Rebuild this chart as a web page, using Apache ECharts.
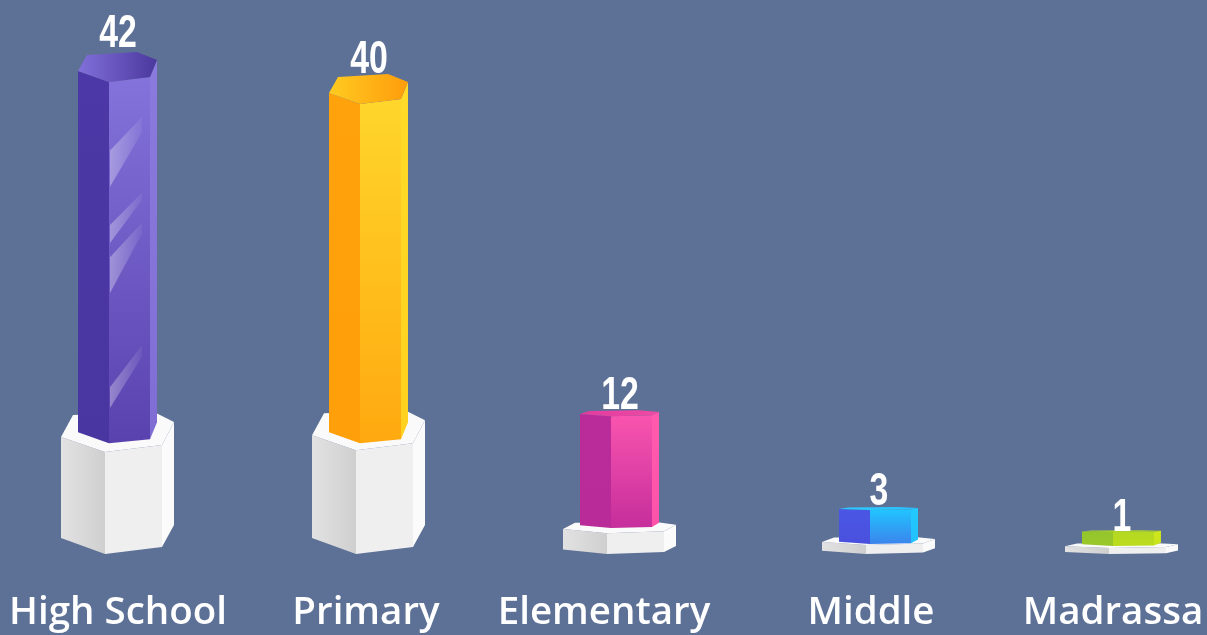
<!DOCTYPE html>
<html><head><meta charset="utf-8">
<style>html,body{margin:0;padding:0;background:#5d7096}#c{width:1207px;height:635px}</style>
<script src="https://cdn.jsdelivr.net/npm/echarts@6/dist/echarts.min.js"></script>
</head><body><div id="c"></div>
<script>
const categories = ['High School','Primary','Elementary','Middle','Madrassa'];
const values = [42,40,12,3,1];
const columnBase = [9.1,9.1,1.37,-0.1,-0.27];
const plinthTop = [8.3,8.45,0.9,-0.18,-0.45];
const plinthBottom = [-1,-1,-1,-1,-1];

const palette = [
 {left:['#4c38a6','#4a36a0'],right:['#8373da','#5a42ae'],strip:['#8c7bde','#7f6dd4'],top:['#8270da','#4b389e']},
 {left:['#ffa20c','#ff9f0a'],right:['#ffd62b','#ffa90f'],strip:['#ffdb28','#ffd01f'],top:['#ffcb20','#ff9c0c']},
 {left:['#b92c9a','#b82b98'],right:['#f954ae','#c62e9c'],strip:['#ff5aad','#ff53aa'],top:['#e03c9f','#f04aa6']},
 {left:['#4a57e4','#4a50de'],right:['#21c4ff','#3b84ec'],strip:['#22caff','#22c0ff'],top:['#2bcbff','#2bc0ff']},
 {left:['#93c52c','#9ac82a'],right:['#b4d822','#bcdc1e'],strip:['#cfe81a','#c8e41c'],top:['#a4d02a','#b0d82a']}
];
const depthTop = [1,1,0.2,0.1,0.06];
const depthBase = [1,1,0.25,0.22,0.15];
const depthPlinth = [1,1,0.28,0.2,0.12];
const nudgeX = [0,0,0,8,0];
const nudgeTop = [0,0,5,0,0];
const nudgeLabel = [-1,3,2,1,4];
const labelShift = [0,-3,-16,0,-9];
const glints = [[0.097,0.19,0.29,0.43],[0.307,0.396,0.446,0.4],[0.39,0.485,0.584,0.3],[0.729,0.845,0.903,0.55]];

const vgrad=(c)=>({type:'linear',x:0,y:0,x2:0,y2:1,colorStops:[{offset:0,color:c[0]},{offset:1,color:c[1]}]});
const hgrad=(c)=>({type:'linear',x:0,y:0,x2:1,y2:0,colorStops:[{offset:0,color:c[0]},{offset:1,color:c[1]}]});
const poly=(pts,fill)=>({type:'polygon',shape:{points:pts},style:{fill,stroke:null},silent:true});

function renderItem(params,api){
  const i=api.value(0);
  const cx=api.coord([i,0])[0]+nudgeX[i];
  const yT=api.coord([i,api.value(1)])[1]+nudgeTop[i];
  const yB=api.coord([i,api.value(2)])[1];
  const yP=api.coord([i,api.value(3)])[1];
  const yF=api.coord([i,api.value(4)])[1];
  const p=palette[i], d=depthTop[i], e=depthBase[i], q=depthPlinth[i];
  const ch=[];
  // plinth
  const X={L:cx-57,BL:cx-45,BR:cx+36,F:cx-13,FR:cx+44,R:cx+56};
  const pt={L:yP-15*q,BL:yP-37*q,BR:yP-40*q,R:yP-30*q,FR:yP-7*q,F:yP};
  const pb={L:yF-16*q,F:yF,FR:yF-7*q,R:yF-29*q};
  ch.push(poly([[X.L,pt.L],[X.F,pt.F],[X.F,pb.F],[X.L,pb.L]],hgrad(['#e2e2e2','#cfcfcf'])));
  ch.push(poly([[X.F,pt.F],[X.FR,pt.FR],[X.FR,pb.FR],[X.F,pb.F]],'#efeff0'));
  ch.push(poly([[X.FR,pt.FR],[X.R,pt.R],[X.R,pb.R],[X.FR,pb.FR]],'#fbfbfb'));
  ch.push(poly([[X.L,pt.L],[X.BL,pt.BL],[X.BR,pt.BR],[X.R,pt.R],[X.FR,pt.FR],[X.F,pt.F]],'#fafafa'));
  // column
  const x={L:cx-40,BL:cx-31,BR:cx+19,F:cx-9,FR:cx+32,R:cx+39};
  const t={L:yT-11*d,BL:yT-27*d,BR:yT-30*d,R:yT-22*d,FR:yT-5*d,F:yT};
  const b={L:yB-11*e,F:yB,FR:yB-4*e,R:yB-21*e};
  ch.push(poly([[x.L,t.L],[x.F,t.F],[x.F,b.F],[x.L,b.L]],vgrad(p.left)));
  ch.push(poly([[x.F,t.F],[x.FR,t.FR],[x.FR,b.FR],[x.F,b.F]],vgrad(p.right)));
  ch.push(poly([[x.FR,t.FR],[x.R,t.R],[x.R,b.R],[x.FR,b.FR]],vgrad(p.strip)));
  ch.push(poly([[x.L,t.L],[x.BL,t.BL],[x.BR,t.BR],[x.R,t.R],[x.FR,t.FR],[x.F,t.F]],hgrad(p.top)));
  if(i===0){
    const h=yB-yT, xr=x.FR-8;
    glints.forEach(g=>{
      const a=yT+g[0]*h,b2=yT+g[1]*h,c2=yT+g[2]*h;
      ch.push(poly([[x.F+1,b2],[xr,a],[xr,a+(c2-b2)*g[3]],[x.F+1,c2]],
        {type:'linear',x:0,y:0,x2:1,y2:0,colorStops:[{offset:0,color:'rgba(255,255,255,0.34)'},{offset:1,color:'rgba(255,255,255,0.05)'}]}));
    });
  }
  ch.push({type:'text',x:cx,y:t.BR+7+nudgeLabel[i],scaleX:0.72,originX:0,silent:true,
    style:{text:String(api.value(1)),textAlign:'center',textVerticalAlign:'bottom',
      font:"bold 47px 'Liberation Sans',sans-serif",fill:'#ffffff'}});
  return {type:'group',children:ch};
}

const rich={};
labelShift.forEach((s,i)=>{rich['c'+i]={padding:[0,-2*s,0,0]};});
const chart=echarts.init(document.getElementById('c'),null,{renderer:'canvas'});
chart.setOption({
  animation:false,backgroundColor:'#5d7096',
  grid:{left:118,right:85,top:82,bottom:81},
  xAxis:{type:'category',data:categories,boundaryGap:false,
    axisLine:{show:false},axisTick:{show:false},
    axisLabel:{interval:0,margin:40,color:'#ffffff',fontFamily:'Open Sans',fontWeight:600,fontSize:38.5,
      rich,formatter:(v,idx)=>`{c${idx}|${v}}`}},
  yAxis:{type:'value',min:-1,max:42,show:false},
  series:[{type:'custom',clip:false,renderItem,
    data:categories.map((c,i)=>[i,values[i],columnBase[i],plinthTop[i],plinthBottom[i]])}]
});
</script></body></html>
